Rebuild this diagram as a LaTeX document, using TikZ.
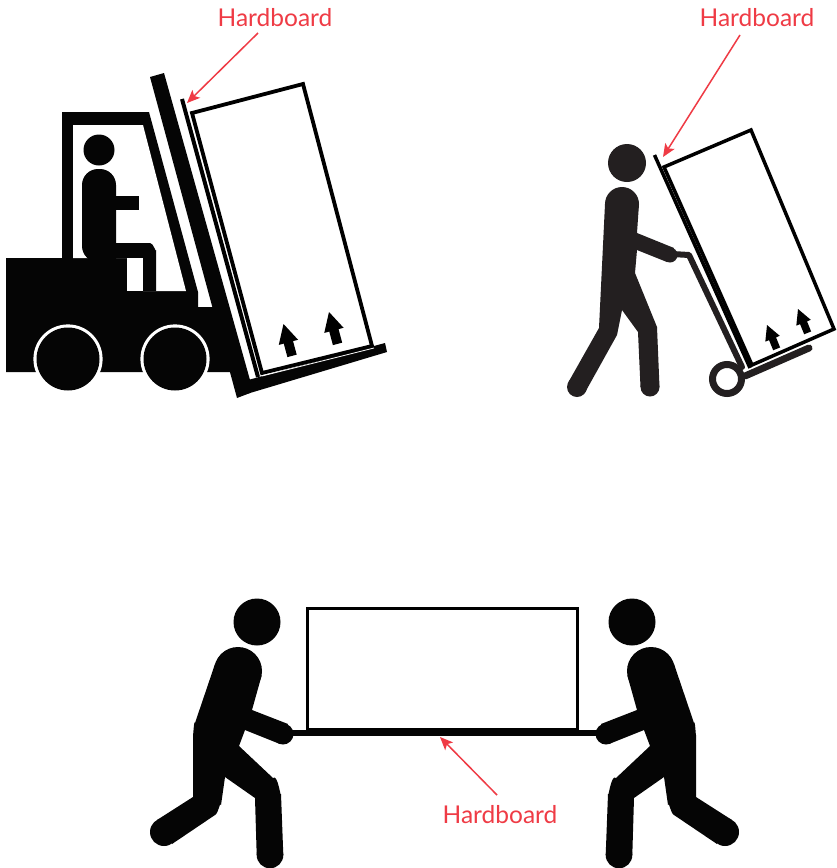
\documentclass[tikz,border=0pt]{standalone}
\usepackage{fontspec}
\setmainfont{Lato}
\usetikzlibrary{arrows.meta}
\definecolor{inkk}{HTML}{050505}
\definecolor{man}{HTML}{231F20}
\definecolor{redd}{HTML}{EF3B45}
\tikzset{
 hblabel/.style={text=redd,font=\fontsize{24.5}{28}\selectfont,inner sep=0pt,anchor=center},
 hbarrow/.style={draw=redd,line width=1.5pt,-{Stealth[length=13pt,width=11pt,inset=3pt]}},
 boxline/.style={draw=black,line width=3.8pt,line join=miter},
 blob/.style={fill=inkk,draw=none},
 manblob/.style={fill=man,draw=none},
 board/.style={draw=black,line width=4pt},
}
\newcommand{\uparrowmark}[4]{% tip x, tip y, angle, scale
 \fill[black,shift={(#1,#2)},rotate=#3,scale=#4] (0,0)--(10,19)--(4.8,19)--(4.8,33)--(-4.8,33)--(-4.8,19)--(-10,19)--cycle;}
\newcommand{\carrierman}[1]{%
 \begin{scope}[#1]
 \fill[blob] (257,622) circle (23.5);
 \fill[blob] (238,671) circle (24);
 \fill[blob] (283,734) circle (10.5);
 \fill[blob] (164,832) circle (14);
 \fill[blob] (270,855) circle (13.3);
 \fill[blob] (215,664)--(238,650)--(261.5,676)--(252,710)--(288,724)--(280,744)--(245,730)--(239,746)--(273,778)
  to[out=45,in=-90] (281,794)--(283.3,855)--(256.7,855)--(255,798)--(225,777)--(221,805)
  to[out=105,in=30] (215,815)--(172,844)--(157,820)--(193,797)--(193,735) to[out=-90,in=103] (195,723)--cycle;
 \end{scope}}
\begin{document}
\begin{tikzpicture}[x=1pt,y=-1pt]
\useasboundingbox (0,0) rectangle (836,868);
\fill[white] (0,0) rectangle (836,868);
% ---------- forklift
\fill[blob] (6,258)--(62,258)--(62,112)--(149,112)--(198,292)--(198,307)--(215,307)--(240,372)--(6,372)--cycle;
\fill[white] (73,125)--(143,125)--(186,291)--(143,291)--(143,258)--(73,258)--cycle;
\fill[blob] (110,243)--(150,243) to[out=0,in=-90] (156,250)--(156,291)--(143,291)--(143,258)--(110,258)--cycle;
\fill[white] (127,258) rectangle (143,291);
\fill[blob] (99,150) circle (15.5);
\fill[blob,rounded corners=16pt] (82,262)--(82,169)--(116,169)--(116,262)--cycle;
\fill[blob] (82,245)--(116,245)--(116,262)--(92,262)--cycle;
\fill[blob] (116,196) rectangle (139,210);
\foreach \c in {68,175}{
 \fill[white] (\c,359) circle (34.6);
 \fill[blob] (\c,359) circle (31.5);
}
\fill[blob] (150,77)--(164,73)--(250,380)--(250,393)--(237,398)--cycle;
\fill[blob] (248,380)--(385,343)--(387,352)--(240,396)--cycle;
\draw[board] (182,99)--(258,377);
\draw[boxline] (192,113)--(303,84)--(372,346)--(262,373)--cycle;
\draw[white,line width=.8pt] (262,376)--(374,348);
\uparrowmark{283.5}{324}{15}{1}
\uparrowmark{329}{312}{15}{1}
% ---------- hand truck
\fill[manblob] (627,163) circle (19);
\fill[manblob] (622,204) circle (17);
\fill[manblob] (577,387) circle (10);
\fill[manblob] (650,387) circle (9.5);
\fill[manblob] (670,255) circle (7.5);
\fill[manblob] (605,204)--(639,204)--(637,233)--(674,248)--(667,262)--(637,250)--(635,273)--(657,327)--(659.5,387)--(640.5,387)
 --(638,332)--(622,310)--(617,335)--(585,392.5)--(568.5,382)--(599,328)--cycle;
\draw[man,line width=6pt,line join=round,line cap=round] (672,254)--(689,255)--(742,367);
\draw[man,line width=7pt] (727,379) circle (14.5);
\draw[man,line width=7pt,line cap=round] (745,376)--(809,348);
\draw[black,line width=3.5pt] (654.5,155)--(750,368);
\draw[black,line width=3.5pt] (664,167)--(751,130)--(834,329)--(752,365)--cycle;
\uparrowmark{767}{325}{22}{.78}
\uparrowmark{798}{309}{22}{.78}
% ---------- two men
\draw[black,line width=3pt] (307,608) rectangle (577,729);
\draw[inkk,line width=6pt] (290,733)--(600,733);
\carrierman{}
\carrierman{xscale=-1,xshift=-889pt}
% ---------- labels
\node[hblabel] (hbA) at (275,18) {Hardboard};
\node[hblabel] (hbB) at (757,18) {Hardboard};
\node[hblabel] (hbC) at (500,815) {Hardboard};
\coordinate (tA) at (187,103);
\coordinate (tB) at (663,157);
\coordinate (tC) at (440,737);
\coordinate (sA) at (258,33);
\coordinate (sB) at (740,35);
\coordinate (sC) at (497,795);
\draw[hbarrow] (sA)--(tA);
\draw[hbarrow] (sB)--(tB);
\draw[hbarrow] (sC)--(tC);
\end{tikzpicture}
\end{document}
